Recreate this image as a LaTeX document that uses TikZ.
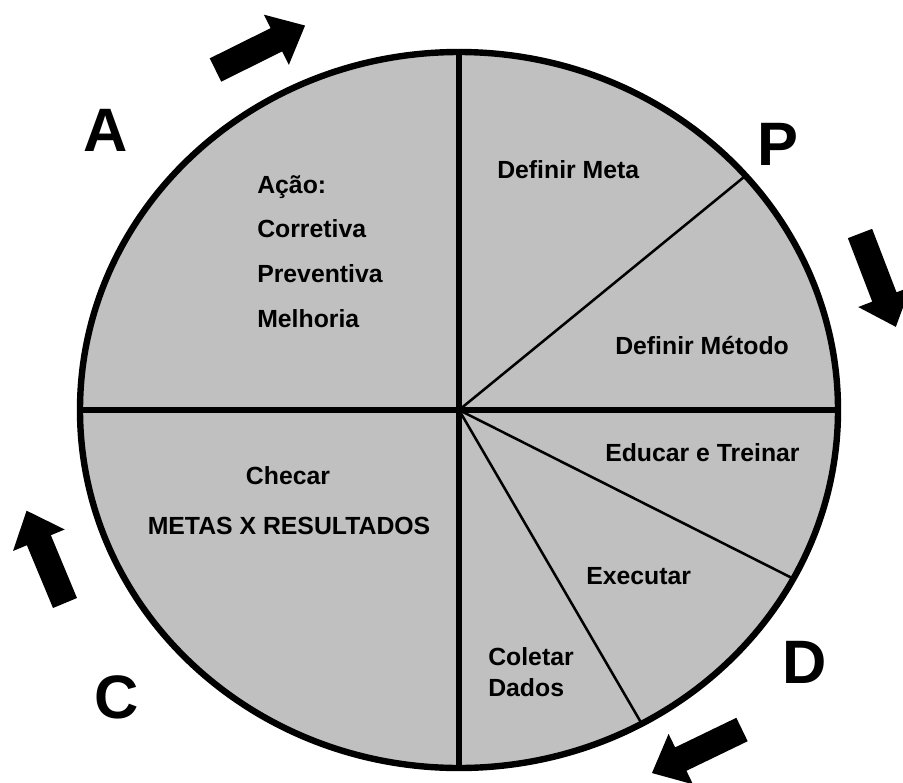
\documentclass[tikz,border=0pt]{standalone}
\usepackage{fontspec}
\setmainfont{Liberation Sans}
\usetikzlibrary{calc}
\definecolor{cyclegray}{RGB}{192,192,192}
\tikzset{
  lbl/.style={font=\fontsize{18.6}{22}\selectfont\bfseries, inner sep=0pt, anchor=base west},
  lblc/.style={font=\fontsize{18.6}{22}\selectfont\bfseries, inner sep=0pt, anchor=base},
  phase/.style={font=\fontsize{46}{50}\selectfont\bfseries, inner sep=0pt, anchor=center},
  thick line/.style={line width=4.8pt},
  thin line/.style={line width=1.9pt},
  blockarrow/.pic={
    \fill[black] (0,-13) -- (68,-13) -- (68,-28) -- (100,0) -- (68,28) -- (68,13) -- (0,13) -- cycle;
  }
}
\begin{document}
\begin{tikzpicture}[x=0.75pt,y=-0.75pt]
  \useasboundingbox (0,0) rectangle (903,782);

  % wheel
  \coordinate (O) at (459,410);
  \coordinate (Top) at (459,52);
  \coordinate (Bot) at (459,768);
  \coordinate (Lft) at (80,410);
  \coordinate (Rgt) at (838,410);
  \coordinate (PA) at (745.6,175.7);
  \coordinate (DA) at (793.2,578.6);
  \coordinate (DB) at (641.6,723.5);

  \fill[cyclegray] (O) ellipse [x radius=284.25pt, y radius=268.5pt];
  \draw[thick line] (Top) -- (Bot);
  \draw[thick line] (Lft) -- (Rgt);
  \draw[thin line] (O) -- (PA);
  \draw[thin line] (O) -- (DA);
  \draw[thin line] (O) -- (DB);
  \draw[line width=4.8pt] (O) ellipse [x radius=284.25pt, y radius=268.5pt];

  % texts
  \node[lbl] (acao) at (257,193) {Ação:};
  \node[lbl] (corr) at (257,237) {Corretiva};
  \node[lbl] (prev) at (257,282) {Preventiva};
  \node[lbl] (melh) at (257,327) {Melhoria};
  \node[lbl] (meta) at (497,178) {Definir Meta};
  \node[lbl] (metodo) at (615,354) {Definir Método};
  \node[lbl] (educ) at (605,461) {Educar e Treinar};
  \node[lbl] (exec) at (586,584) {Executar};
  \node[lbl] (colet) at (488,665) {Coletar};
  \node[lbl] (dados) at (488,696) {Dados};
  \node[lblc] (checar) at (288,484) {Checar};
  \node[lblc] (metas) at (289,534) {METAS X RESULTADOS};

  % PDCA letters
  \node[phase] (A) at (106,130) {A};
  \node[phase] (P) at (778,144) {P};
  \node[phase] (C) at (117,697) {C};
  \node[phase] (D) at (805,662) {D};

  % cycle arrows
  \pic[shift={(215.5,70)}, rotate=26.4] {blockarrow};
  \pic[shift={(860,233.5)}, rotate=-69] {blockarrow};
  \pic[shift={(65,603)}, rotate=112.6] {blockarrow};
  \pic[shift={(742,729.5)}, rotate=205.8] {blockarrow};
\end{tikzpicture}
\end{document}
